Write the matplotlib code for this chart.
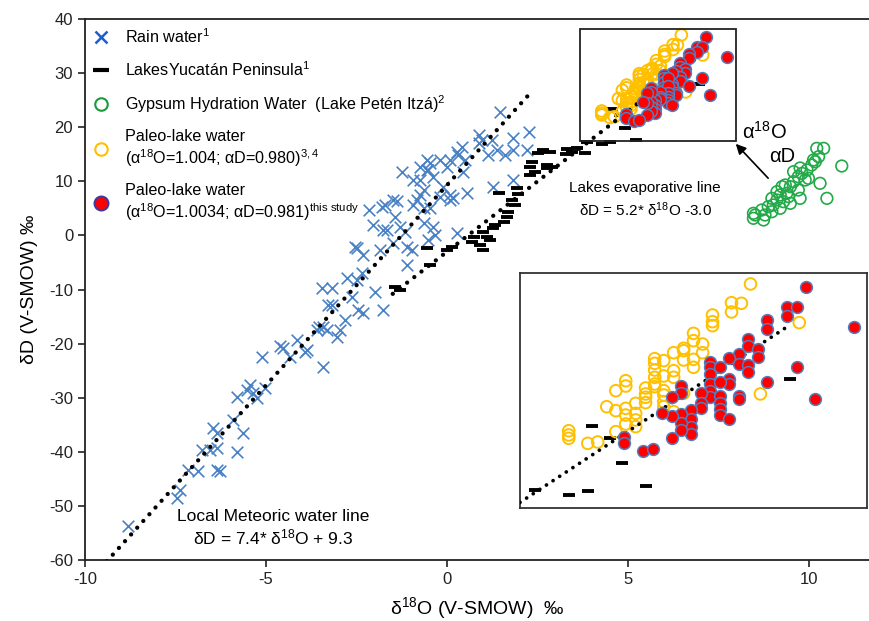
import matplotlib.pyplot as plt
from matplotlib.lines import Line2D
from matplotlib.patches import Rectangle

plt.rcParams['font.family'] = ['Liberation Sans', 'DejaVu Sans']
plt.rcParams['mathtext.fontset'] = 'custom'
plt.rcParams['mathtext.rm'] = 'Liberation Sans'
plt.rcParams['mathtext.it'] = 'Liberation Sans:italic'
plt.rcParams['mathtext.bf'] = 'Liberation Sans:bold'
plt.rcParams['axes.unicode_minus'] = False

# rain water (d18O, dD)
rain_x = [-3.46, -3.28, -3.42, -3.60, -3.32, -3.42, -4.15, -3.92, -4.61, -4.52, -4.34, -5.12,
          -5.44, -5.53, -5.35, -5.81, -5.26, -5.03, -5.90, -6.46, -6.36, -5.63, -6.78, -6.55,
          -6.36, -5.81, -7.15, -6.87, -6.36, -6.27, -7.38, -7.47, -8.80,
          -3.88, -3.55, -2.96, -3.05, -3.19, -3.19, -2.82, -2.45, -2.31, -2.63, -2.77, -2.49,
          -2.36, -1.99, -1.76, -2.54, -2.31, -2.04, -2.17, -1.80, -1.76, -1.85, -1.48, -1.48,
          -1.44, -1.30, -1.16, -1.11, -1.11, -0.98, -1.25, -0.93, -0.84, -0.75, -0.65, -0.65,
          -0.75, -0.56, -0.75, -0.38, -0.65, -0.47, -0.38, -0.33, -0.52, -0.19, -0.01, 0.08,
          -0.10, 0.08, 0.17, -0.19, 0.31, 0.41, 0.27, 0.50, 0.45, 0.54, 0.27, 0.87, 0.96, 0.87,
          1.23, 1.14, 1.46, 1.37, 1.60, 1.83, 1.83, 2.25, 2.20, 1.28, 1.83, -0.56, -0.47, -0.93,
          0.08, -1.71, -1.39, -2.49, -1.67, -0.52]
rain_y = [-9.78, -12.87, -16.87, -17.49, -17.49, -24.27, -19.33, -21.50, -20.44, -20.87, -22.42, -22.54,
          -27.65, -28.58, -29.19, -29.93, -30.11, -28.26, -34.12, -35.66, -36.47, -36.58, -39.67, -39.67,
          -39.36, -39.98, -43.36, -43.49, -43.36, -43.49, -47.06, -48.60, -53.70,
          -21.18, -16.87, -17.49, -18.73, -9.78, -12.87, -15.64, -13.79, -14.40, -11.33, -7.93, -8.25,
          -7.01, -10.40, -13.79, -2.09, -3.62, 1.92, 4.69, 5.30, 1.00, -2.70, -1.46, 6.54,
          3.46, 1.61, 0.69, -2.09, -5.47, -2.70, 11.78, 5.62, 6.54, 7.47, 5.01, 2.24,
          12.70, 12.09, 10.24, 10.85, 8.39, 5.01, 1.61, 0.07, -0.85, 13.94, 12.70, 13.94,
          9.00, 7.47, 6.85, 7.16, 14.86, 16.40, 15.48, 13.94, 11.78, 7.78, 0.38, 18.55, 17.63, 17.02,
          17.63, 14.86, 22.87, 15.79, 14.86, 17.94, 15.79, 19.17, 15.79, 9.00, 10.24, 13.94, 13.33, 10.24,
          6.54, 5.62, 6.36, -2.39, 1.00, 12.09]

# lakes of the Yucatan Peninsula
lake_x = [2.52, 2.85, 3.31, 3.29, 3.58, 3.81, 2.34, 2.29, 2.75, 2.89, 2.43, 2.29, 1.93, 1.42,
          1.97, 1.79, 1.88, 1.69, 1.65, 1.56, 1.33, 1.28, 1.00, 1.10, 1.19, 0.73, 0.68, 0.91,
          1.00, 0.13, -0.01, -0.56, -0.47, -1.44, -1.30, 2.66, 2.75, 3.44,
          3.86, 4.27, 4.50, 5.21, 4.55, 4.77, 4.92, 6.95]
lake_y = [15.17, 15.48, 15.97, 14.98, 16.09, 15.17, 13.62, 12.70, 13.01, 12.70, 11.78, 11.16, 8.70, 7.78,
          7.59, 6.54, 5.62, 4.38, 3.46, 2.53, 1.92, 1.31, 0.69, -0.24, -0.85, -0.24, -1.16, -1.77,
          -2.70, -2.09, -2.70, -2.39, -5.47, -9.48, -10.09, 15.79, 12.39, 15.48,
          17.32, 16.85, 17.23, 17.71, 23.45, 22.30, 19.91, 27.95]

# gypsum hydration water (Lake Peten Itza)
gyp_x = [10.40, 10.26, 10.17, 10.90, 10.07, 9.94, 9.80, 9.70, 9.89, 10.30, 9.57, 9.48, 9.34,
         9.70, 9.38, 9.20, 9.75, 10.49, 9.11, 9.29, 9.48, 9.01, 8.87, 9.20, 8.97, 8.78, 8.51,
         8.46, 8.74, 8.69, 9.11, 9.57, 10.12, 9.98, 9.43, 9.25, 8.97, 9.75, 8.46, 10.21]
gyp_y = [16.09, 14.55, 13.62, 12.83, 13.01, 12.09, 11.47, 10.85, 10.24, 9.63, 9.93, 9.00, 9.32,
         8.39, 7.78, 7.47, 6.85, 6.85, 6.54, 6.23, 5.93, 5.62, 5.30, 5.01, 4.38, 3.77, 3.77,
         3.16, 2.85, 4.69, 8.08, 11.78, 13.94, 10.55, 7.16, 9.00, 6.85, 12.46, 4.08, 16.09]

# paleo-lake water (alpha18O=1.004; alphaD=0.980)
paleo_x = [6.47, 6.24, 6.36, 6.24, 6.01, 6.01, 6.01, 7.06, 5.78, 5.78, 5.66, 5.66, 5.54, 5.89,
           5.89, 5.66, 5.78, 5.78, 5.31, 5.31, 5.31, 5.42, 5.31, 5.31, 5.54, 5.54, 5.42, 4.96,
           4.96, 4.84, 5.20, 5.20, 5.20, 5.20, 5.31, 5.42, 5.42, 5.42, 5.42, 5.54, 4.73, 4.84,
           4.96, 4.96, 4.96, 5.08, 5.08, 5.08, 5.08, 4.84, 4.27, 4.27, 4.27, 4.50, 4.62, 6.59, 5.66]
paleo_y = [37.05, 35.26, 35.20, 34.37, 34.08, 33.44, 33.06, 33.35, 32.32, 31.62, 30.89, 30.66, 30.47, 31.30,
           30.47, 29.77, 29.83, 29.07, 29.90, 29.45, 28.81, 29.71, 28.11, 27.47, 28.75, 28.11, 28.24, 27.79,
           27.28, 26.83, 27.09, 26.52, 26.20, 25.69, 27.22, 26.83, 26.42, 25.78, 25.30, 24.82, 25.30, 24.92,
           25.14, 24.50, 23.64, 25.62, 24.66, 24.03, 23.39, 22.91, 23.00, 22.59, 22.27, 21.79, 21.92, 26.52, 26.58]

# paleo-lake water, this study (alpha18O=1.0034; alphaD=0.981)
study_x = [7.14, 6.91, 7.03, 6.91, 6.67, 6.67, 7.72, 6.44, 6.44, 6.56, 6.56, 6.33, 6.33, 6.44,
           6.44, 6.21, 6.21, 6.21, 5.98, 5.98, 5.98, 5.98, 5.98, 5.98, 6.10, 6.10, 7.03, 6.67,
           7.25, 6.33, 6.33, 6.10, 6.10, 6.10, 6.10, 6.21, 5.87, 5.87, 5.87, 5.75, 5.75, 5.75,
           5.75, 5.63, 5.63, 5.63, 5.63, 5.63, 5.52, 5.52, 5.52, 5.40, 4.94, 4.94, 5.17, 5.29]
study_y = [36.73, 34.88, 34.81, 33.98, 33.60, 32.71, 32.96, 31.78, 31.14, 30.79, 30.03, 30.35, 29.39, 29.29,
           28.59, 29.99, 27.98, 27.47, 29.58, 29.07, 28.43, 27.47, 26.83, 26.26, 29.07, 27.70, 29.07, 27.66,
           26.01, 26.32, 26.01, 26.32, 25.62, 25.05, 24.50, 24.09, 26.58, 25.62, 25.14, 24.98, 24.09, 23.39,
           22.69, 27.28, 26.58, 24.60, 23.77, 23.07, 26.26, 24.41, 22.33, 24.66, 22.43, 21.79, 21.09, 21.28]

# regression lines: slope, intercept, x range
lmwl_slope, lmwl_icpt, lmwl_range = 7.4, 9.3, [-9.4, 2.25]
lel_slope, lel_icpt, lel_range = 5.2, -3.0, [-1.5, 7.0]
lel_inset_range = [3.68, 6.96]

c_rain = '#4a80c4'
c_gyp = '#22aa48'
c_paleo = '#ffc000'
c_red = '#ff0000'
c_rededge = '#4f7fc0'

fig = plt.figure(figsize=(8.7, 6.21), dpi=100)
ax = fig.add_axes([85 / 870, 61 / 621, 785 / 870, 541 / 621])
ax.set_xlim(-10, 11.68)
ax.set_ylim(-60, 40)


def dotted(a, rng, slope, icpt, lw=3.1):
    a.plot(rng, [slope * v + icpt for v in rng], color='k', lw=lw,
           ls=(0, (0.01, 2.1)), dash_capstyle='round', zorder=4)


def paleo_marks(a):
    a.scatter(lake_x, lake_y, marker='_', s=85, color='k', linewidths=2.8, zorder=3)
    a.scatter(paleo_x, paleo_y, s=70, facecolors='none', edgecolors=c_paleo, linewidths=1.4, zorder=3)
    a.scatter(study_x, study_y, s=72, facecolors=c_red, edgecolors=c_rededge, linewidths=1.1, zorder=5)


ax.scatter(rain_x, rain_y, marker='x', s=70, color=c_rain, linewidths=1.2, zorder=3)
ax.scatter(gyp_x, gyp_y, s=70, facecolors='none', edgecolors=c_gyp, linewidths=1.2, zorder=3)
paleo_marks(ax)
dotted(ax, lmwl_range, lmwl_slope, lmwl_icpt)
dotted(ax, lel_range, lel_slope, lel_icpt)

ax.add_patch(Rectangle((3.68, 17.45), 4.29, 20.7, fill=False, ec='#222222', lw=1.3, zorder=6))
ax.annotate('', xy=(7.92, 17.3), xytext=(8.92, 10.2),
            arrowprops=dict(arrowstyle='-|>', color='k', lw=1.2, mutation_scale=15))
ax.text(8.77, 19.1, 'α$^{18}$O', fontsize=14.5, ha='center', va='center')
ax.text(9.25, 14.5, 'αD', fontsize=14.5, ha='center', va='center')

ax.text(-4.81, -54.2, 'Local Meteoric water line\nδD = 7.4* δ$^{18}$O + 9.3',
        fontsize=12.5, ha='center', va='center', linespacing=1.2)
ax.text(5.47, 6.6, 'Lakes evaporative line\nδD = 5.2* δ$^{18}$O -3.0',
        fontsize=11, ha='center', va='center', linespacing=1.35)

ax.set_xticks([-10, -5, 0, 5, 10])
ax.set_yticks(range(-60, 41, 10))
ax.tick_params(direction='out', length=5, width=1.2, labelsize=12, colors='#222222')
for s in ['left', 'bottom', 'top']:
    ax.spines[s].set_linewidth(1.3)
    ax.spines[s].set_color('#222222')
ax.spines['right'].set_visible(False)
ax.set_xlabel('δ$^{18}$O (V-SMOW)  ‰', fontsize=14, labelpad=6)
ax.set_ylabel('δD (V-SMOW) ‰', fontsize=14, labelpad=8)

handles = [
    Line2D([], [], marker='x', color='#1a5fd0', ls='none', ms=9, mew=1.8),
    Line2D([], [], marker='_', color='k', ls='none', ms=12, mew=3),
    Line2D([], [], marker='o', mfc='none', mec='#1a9a3a', ls='none', ms=9, mew=1.5),
    Line2D([], [], marker='o', mfc='none', mec=c_paleo, ls='none', ms=9, mew=1.5),
    Line2D([], [], marker='o', mfc=c_red, mec='#3a3aa0', ls='none', ms=10, mew=1.5),
]
labels = [
    'Rain water$^{1}$',
    'LakesYucatán Peninsula$^{1}$',
    'Gypsum Hydration Water  (Lake Petén Itzá)$^{2}$',
    'Paleo-lake water\n(α$^{18}$O=1.004; αD=0.980)$^{3,4}$',
    'Paleo-lake water\n(α$^{18}$O=1.0034; αD=0.981)$^{\\mathrm{this\\ study}}$',
]
ax.legend(handles, labels, loc='upper left', bbox_to_anchor=(0.0, 1.0), frameon=False,
          fontsize=11.6, handlelength=1.0, handletextpad=1.0, labelspacing=0.88,
          borderaxespad=0.2, borderpad=0.3)

# magnified view of the boxed region
axi = fig.add_axes([520 / 870, 113 / 621, 347 / 870, 235 / 621])
axi.set_xlim(3.68, 7.88)
axi.set_ylim(15.6, 38.1)
paleo_marks(axi)
dotted(axi, lel_inset_range, lel_slope, lel_icpt, lw=2.7)
axi.set_xticks([])
axi.set_yticks([])
for s in axi.spines.values():
    s.set_linewidth(1.3)
    s.set_color('#333333')

fig.savefig('out.png', dpi=100)
